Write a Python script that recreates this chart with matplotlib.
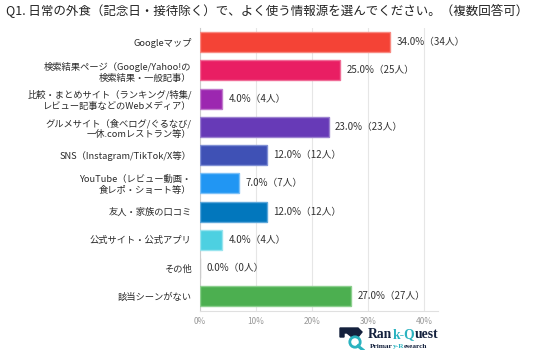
import matplotlib
matplotlib.use("Agg")
import matplotlib.pyplot as plt
from matplotlib.patches import Circle, Polygon
from matplotlib.font_manager import FontProperties

plt.rcParams['font.family'] = ['Noto Sans CJK JP', 'DejaVu Sans']

categories = [
    "Googleマップ",
    "検索結果ページ（Google/Yahoo!の\n検索結果・一般記事）",
    "比較・まとめサイト（ランキング/特集/\nレビュー記事などのWebメディア）",
    "グルメサイト（食べログ/ぐるなび/\n一休.comレストラン等）",
    "SNS（Instagram/TikTok/X等）",
    "YouTube（レビュー動画・\n食レポ・ショート等）",
    "友人・家族の口コミ",
    "公式サイト・公式アプリ",
    "その他",
    "該当シーンがない",
]
percents = [34.0, 25.0, 4.0, 23.0, 12.0, 7.0, 12.0, 4.0, 0.0, 27.0]
counts = [34, 25, 4, 23, 12, 7, 12, 4, 0, 27]
colors = ["#F44336", "#E91E63", "#9C27B0", "#673AB7", "#3F51B5",
          "#2196F3", "#0277BD", "#4DD0E1", "#9E9E9E", "#4CAF50"]
edges = ["#F88A82", "#F06C97", "#C07ACC", "#9C82D0", "#8090D4",
         "#7CC0F7", "#5EA8DA", "#98E4EE", "#CCCCCC", "#8CCF8E"]
xticks = [0, 10, 20, 30, 40]
xticklabels = ["0%", "10%", "20%", "30%", "40%"]
title = "Q1. 日常の外食（記念日・接待除く）で、よく使う情報源を選んでください。（複数回答可）"

W, H = 536, 353
fig = plt.figure(figsize=(W / 100, H / 100), dpi=100)
ax = fig.add_axes([200 / W, 1 - 310.5 / H, 237.5 / W, 282.5 / H])

y = list(range(len(categories)))
ax.barh(y, percents, height=0.7, color=colors, edgecolor=edges, linewidth=1.0, zorder=3)
for yi, p, c in zip(y, percents, counts):
    ax.annotate(f"{p:.1f}%（{c}人）", (p, yi), xytext=(4.5, 0), textcoords="offset points",
                va="center", ha="left", fontsize=7, color="#333333")

ax.set_xlim(0, 42.4)
ax.set_ylim(len(categories) - 0.5, -0.5)
ax.set_yticks(y)
ax.set_yticklabels(categories, fontsize=6.7, color="#2a2a2a", linespacing=1.25)
ax.set_xticks(xticks)
ax.set_xticklabels(xticklabels, fontsize=6, color="#999999")
ax.tick_params(axis="both", length=0)
ax.tick_params(axis="y", pad=6)
ax.tick_params(axis="x", pad=5)
ax.grid(axis="x", color="#E6E6E6", linewidth=0.8, zorder=0)
for s in ["top", "right"]:
    ax.spines[s].set_visible(False)
ax.spines["left"].set_color("#CCCCCC")
ax.spines["bottom"].set_color("#E0E0E0")

fig.text(6 / W, 1 - 11 / H, title, fontsize=9, color="#222222", va="center", ha="left")

# logo icon
lax = fig.add_axes([339 / W, 1 - 350 / H, 30 / W, 23 / H])
lax.set_xlim(0, 30)
lax.set_ylim(0, 23)
lax.axis("off")
lax.add_patch(Polygon([[1, 22], [19, 22], [23, 18], [19, 13], [13, 13], [8, 17], [5, 17], [5, 13], [1, 13]],
                      closed=True, color="#14213D"))
lax.add_patch(Circle((16, 8), 5.2, fill=False, edgecolor="#2BB3C0", linewidth=2))
lax.plot([19, 24], [4, 0], color="#2BB3C0", linewidth=2.2)

navy = "#14213D"
teal = "#2BB3C0"
fig.canvas.draw()
r = fig.canvas.get_renderer()


def seq_text(x, yv, parts, size):
    fp = FontProperties(family="Liberation Serif", weight="bold", size=size)

    def wid(s):
        return r.get_text_width_height_descent(s, fp, ismath=False)[0] * 100 / fig.dpi

    prefix = ""
    for txt, col in parts:
        if prefix:
            xi = x + wid(prefix + txt) - wid(txt)
        else:
            xi = x
        fig.text(xi / W, 1 - yv / H, txt, fontproperties=fp, color=col,
                 va="baseline", ha="left")
        prefix += txt


seq_text(368, 338.5, [("Ran", navy), ("k-Q", teal), ("uest", navy)], 9.8)
seq_text(370, 348, [("Primar", navy), ("y-R", teal), ("esearch", navy)], 5.3)

fig.savefig("out.png", dpi=100)
